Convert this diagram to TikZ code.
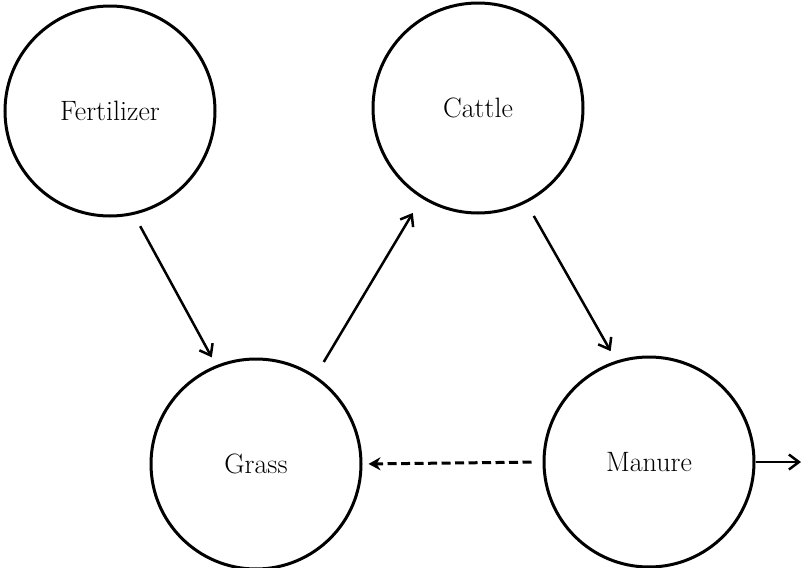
\documentclass[tikz,border=0pt]{standalone}
\usetikzlibrary{arrows.meta}
\begin{document}
\begin{tikzpicture}[x=1pt,y=-1pt,
  stage/.style={draw, circle, line width=3pt, minimum size=210pt, inner sep=0pt,
    font=\fontsize{28}{33}\selectfont},
  flow/.style={line width=2.5pt, -{Straight Barb[length=10pt,width=15pt,line width=2.5pt]}},
  back/.style={line width=3pt, dash pattern=on 9pt off 4.5pt, -{Stealth[length=12pt,width=13pt]}}]
\useasboundingbox (0,0) rectangle (804,568);
\node[stage] (fert) at (110,111) {\raisebox{-4pt}{Fertilizer}};
\node[stage] (cattle) at (478,108) {Cattle};
\node[stage] (grass) at (256,464) {Grass};
\node[stage] (manure) at (649,462) {Manure};
\coordinate (out) at (801,462);
\draw[flow, shorten <=13pt, shorten >=9pt] (fert.-77) -- (grass.112);
\draw[flow, shorten <=16pt, shorten >=17pt] (grass.56) -- (cattle.238);
\draw[flow, shorten <=15pt, shorten >=11pt] (cattle.-63) -- (manure.108);
\draw[back, shorten <=11pt, shorten >=6pt] (manure.180) -- (grass.0);
\draw[flow] (manure.0) -- (out);
\end{tikzpicture}
\end{document}
